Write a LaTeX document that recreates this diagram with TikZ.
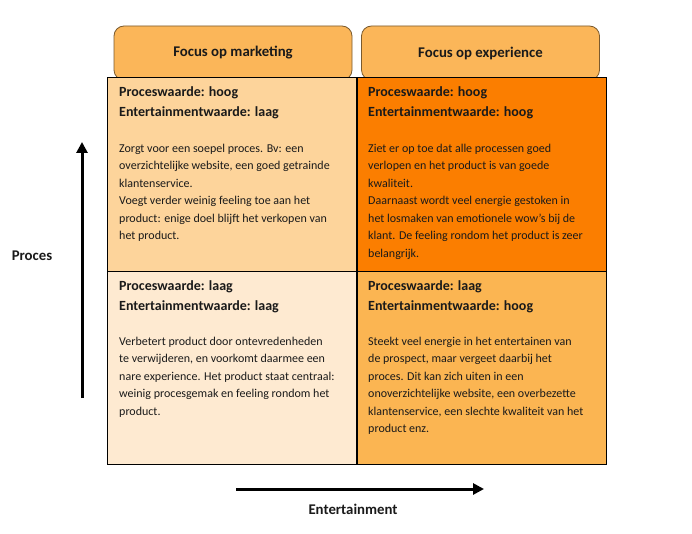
\documentclass[tikz,border=0pt]{standalone}
\usepackage{fontspec}
\setmainfont{Carlito}
\usetikzlibrary{arrows.meta}
\definecolor{hdrfill}{HTML}{FBB659}
\definecolor{hdrline}{HTML}{7A5A2E}
\definecolor{tlfill}{HTML}{FDD49B}
\definecolor{trfill}{HTML}{FB7E00}
\definecolor{blfill}{HTML}{FEEAD1}
\definecolor{brfill}{HTML}{FBB552}
\definecolor{txt}{HTML}{1A1A1A}
\tikzset{
  hdrbox/.style={draw=hdrline, line width=0.8pt, fill=hdrfill, rounded corners=10pt, minimum width=238pt, minimum height=54pt, font=\fontsize{14.8}{16}\selectfont\bfseries, text=txt},
  cellbox/.style={draw=black, line width=0.8pt, minimum width=249pt, minimum height=193.5pt, inner sep=0pt},
  headtxt/.style={anchor=north west, inner sep=0pt, align=left, font=\fontsize{14}{20}\selectfont\bfseries, text=txt},
  bodytxt/.style={anchor=north west, inner sep=0pt, align=left, font=\fontsize{12}{17.5}\selectfont, text=txt},
  axisarrow/.style={line width=3pt, -{Triangle[length=11pt,width=11pt]}},
  axislabel/.style={font=\fontsize{14.8}{16}\selectfont\bfseries, text=txt}
}
\begin{document}
\begin{tikzpicture}[x=1pt,y=-1pt]
\useasboundingbox[fill=white] (0,0) rectangle (692,534);
% headers
\node[hdrbox] (hm) at (233,53) {Focus op marketing};
\node[hdrbox] (he) at (480.5,53) {Focus op experience};
% cells
\node[cellbox, fill=tlfill] (tl) at (231.5,174.5) {};
\node[cellbox, fill=trfill] (tr) at (481.5,174.5) {};
\node[cellbox, fill=blfill] (bl) at (231.5,368) {};
\node[cellbox, fill=brfill] (br) at (481.5,368) {};
% top-left
\node[headtxt] (tlh) at (119,86) {Proceswaarde: hoog\\Entertainmentwaarde: laag};
\node[bodytxt] (tlb) at (119,143.5) {Zorgt voor een soepel proces. Bv: een\\overzichtelijke website, een goed getrainde\\klantenservice.\\Voegt verder weinig feeling toe aan het\\product: enige doel blijft het verkopen van\\het product.};
% top-right
\node[headtxt] (trh) at (368,86) {Proceswaarde: hoog\\Entertainmentwaarde: hoog};
\node[bodytxt] (trb) at (368,143.5) {Ziet er op toe dat alle processen goed\\verlopen en het product is van goede\\kwaliteit.\\Daarnaast wordt veel energie gestoken in\\het losmaken van emotionele wow’s bij de\\klant. De feeling rondom het product is zeer\\belangrijk.};
% bottom-left
\node[headtxt] (blh) at (119,280.5) {Proceswaarde: laag\\Entertainmentwaarde: laag};
\node[bodytxt] (blb) at (119,336.5) {Verbetert product door ontevredenheden\\te verwijderen, en voorkomt daarmee een\\nare experience. Het product staat centraal:\\weinig procesgemak en feeling rondom het\\product.};
% bottom-right
\node[headtxt] (brh) at (368,280.5) {Proceswaarde: laag\\Entertainmentwaarde: hoog};
\node[bodytxt] (brb) at (368,336.5) {Steekt veel energie in het entertainen van\\de prospect, maar vergeet daarbij het\\proces. Dit kan zich uiten in een\\onoverzichtelijke website, een overbezette\\klantenservice, een slechte kwaliteit van het\\product enz.};
% axes
\coordinate (vs) at (82,398);
\coordinate (ve) at (82,142);
\draw[axisarrow] (vs) -- (ve);
\coordinate (hs) at (236,489);
\coordinate (he2) at (484,489);
\draw[axisarrow] (hs) -- (he2);
\node[axislabel] (lp) at (32,256) {Proces};
\node[axislabel] (le) at (353,509) {Entertainment};
\end{tikzpicture}
\end{document}
